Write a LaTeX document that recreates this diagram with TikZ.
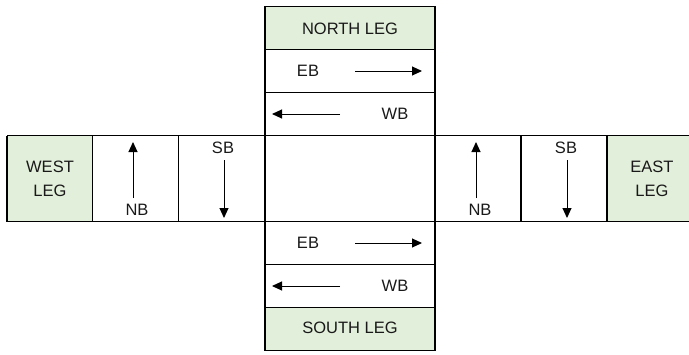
\documentclass[tikz,border=0pt]{standalone}
\usepackage{fontspec}
\setmainfont{Liberation Sans}
\usetikzlibrary{arrows.meta}
\definecolor{legfill}{HTML}{E2EFDA}
\begin{document}
\begin{tikzpicture}[x=1pt,y=-1pt,
  grid/.style={line width=1.8pt,draw=black},
  leg/.style={fill=legfill},
  lbl/.style={font=\fontsize{16.5}{24}\selectfont,align=center,inner sep=0pt,text=black!90},
  flow/.style={line width=1pt,draw=black,-{Triangle[length=10pt,width=9pt]}}]
\clip (0,0) rectangle (689,354);
% leg fills
\fill[leg] (265,6.5) rectangle (435,49.5);
\fill[leg] (265,307.5) rectangle (435,350.5);
\fill[leg] (7,135.5) rectangle (92.5,221.5);
\fill[leg] (607,135.5) rectangle (700,221.5);
% north-south column
\draw[grid] (265,6.5) rectangle (435,350.5);
\foreach \y in {49.5,92.5,264.5,307.5} \draw[grid] (265,\y) -- (435,\y);
% east-west band
\draw[grid] (7,135.5) -- (700,135.5);
\draw[grid] (7,221.5) -- (700,221.5);
\foreach \x in {7,92.5,178.5,521,607} \draw[grid] (\x,135.5) -- (\x,221.5);
% leg labels
\node[lbl] (north) at (350,28.5) {NORTH LEG};
\node[lbl] (south) at (350,328) {SOUTH LEG};
\node[lbl] (west) at (50,179) {WEST\\LEG};
\node[lbl] (east) at (652,179) {EAST\\LEG};
% north leg flows
\node[lbl] (nEB) at (308,71) {EB};
\coordinate (nEBa) at (355,71); \coordinate (nEBb) at (422,71);
\draw[flow] (nEBa) -- (nEBb);
\node[lbl] (nWB) at (395,114) {WB};
\coordinate (nWBa) at (340,114); \coordinate (nWBb) at (272,114);
\draw[flow] (nWBa) -- (nWBb);
% south leg flows
\node[lbl] (sEB) at (308,243) {EB};
\coordinate (sEBa) at (355,243); \coordinate (sEBb) at (422,243);
\draw[flow] (sEBa) -- (sEBb);
\node[lbl] (sWB) at (395,286) {WB};
\coordinate (sWBa) at (340,286); \coordinate (sWBb) at (272,286);
\draw[flow] (sWBa) -- (sWBb);
% west leg flows
\node[lbl] (wNB) at (137,210) {NB};
\coordinate (wNBa) at (133,198); \coordinate (wNBb) at (133,142);
\draw[flow] (wNBa) -- (wNBb);
\node[lbl] (wSB) at (223,147.5) {SB};
\coordinate (wSBa) at (224,160); \coordinate (wSBb) at (224,218);
\draw[flow] (wSBa) -- (wSBb);
% east leg flows
\node[lbl] (eNB) at (480,210) {NB};
\coordinate (eNBa) at (476,198); \coordinate (eNBb) at (476,142);
\draw[flow] (eNBa) -- (eNBb);
\node[lbl] (eSB) at (566,147.5) {SB};
\coordinate (eSBa) at (567,160); \coordinate (eSBb) at (567,218);
\draw[flow] (eSBa) -- (eSBb);
\end{tikzpicture}
\end{document}
